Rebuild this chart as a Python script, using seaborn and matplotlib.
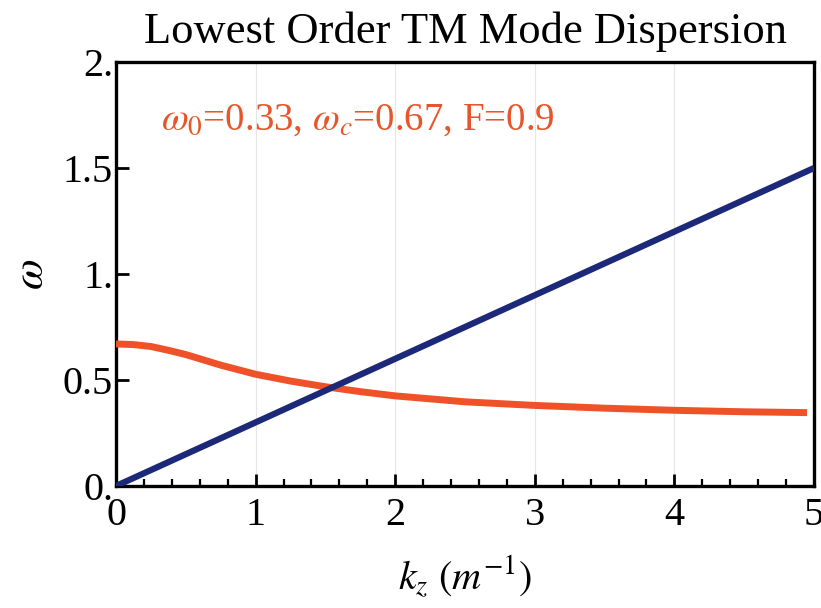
import numpy as np
import pandas as pd
import matplotlib
matplotlib.use("Agg")
import matplotlib.pyplot as plt
import seaborn as sns

# Data
kz_light = [0.0, 5.0]
omega_light = [0.0, 1.5]

kz_mode = [0.0, 0.125, 0.25, 0.375, 0.5, 0.75, 1.0, 1.25, 1.5, 1.75, 2.0, 2.5, 3.0,
           3.5, 4.0, 4.5, 4.95]
omega_mode = [0.670, 0.667, 0.658, 0.640, 0.620, 0.570, 0.527, 0.495, 0.468, 0.445,
              0.425, 0.397, 0.380, 0.367, 0.357, 0.350, 0.346]

x_ticks = [0, 1, 2, 3, 4, 5]
x_ticklabels = ["0", "1", "2", "3", "4", "5"]
y_ticks = [0.0, 0.5, 1.0, 1.5, 2.0]
y_ticklabels = ["0.", "0.5", "1.", "1.5", "2."]

sns.set_style("white")
plt.rcParams["font.family"] = ["Liberation Serif", "DejaVu Serif"]
plt.rcParams["mathtext.fontset"] = "stix"
plt.rcParams["text.color"] = "black"
plt.rcParams["axes.labelcolor"] = "black"
plt.rcParams["xtick.color"] = "black"
plt.rcParams["ytick.color"] = "black"

fig = plt.figure(figsize=(8.21, 6.08), dpi=100)
ax = fig.add_axes([0.1413, 0.2007, 0.8502, 0.6973])

df_light = pd.DataFrame({"kz": kz_light, "omega": omega_light})
df_mode = pd.DataFrame({"kz": kz_mode, "omega": omega_mode})

sns.lineplot(data=df_light, x="kz", y="omega", ax=ax, color="#1c2878", lw=4.5,
             solid_capstyle="butt", zorder=4)
sns.lineplot(data=df_mode, x="kz", y="omega", ax=ax, color="#ef5228", lw=5,
             solid_capstyle="butt", solid_joinstyle="round", zorder=3)

ax.set_xlim(0, 5)
ax.set_ylim(0, 2)
ax.set_xticks(x_ticks)
ax.set_xticklabels(x_ticklabels)
ax.set_yticks(y_ticks)
ax.set_yticklabels(y_ticklabels)
ax.set_xticks(np.arange(0, 5.01, 0.2), minor=True)

ax.tick_params(axis="x", which="both", bottom=True, top=False)
ax.tick_params(axis="y", which="both", left=True, right=False)
ax.tick_params(axis="both", which="major", direction="in", length=9, width=2,
               labelsize=29, colors="black", pad=6)
ax.tick_params(axis="x", which="minor", direction="in", length=5, width=1.6, colors="black")
ax.tick_params(axis="x", which="major", pad=8)
ax.tick_params(axis="y", which="major", pad=2)

ax.xaxis.grid(True, which="major", color="#e6e6e6", lw=0.8)
ax.yaxis.grid(False)

for s in ax.spines.values():
    s.set_linewidth(2.4)
    s.set_color("black")

ax.set_xlabel(r"$k_z\ (m^{-1})$", fontsize=29, labelpad=14)
ax.set_ylabel(r"$\omega$", fontsize=32, labelpad=8)
ax.set_title("Lowest Order TM Mode Dispersion", fontsize=32, pad=14)

ax.text(0.064, 0.82, r"$\omega_0$=0.33, $\omega_c$=0.67, F=0.9", transform=ax.transAxes,
        fontsize=28, color="#e8552a", va="bottom", ha="left")

fig.savefig("out.png", dpi=100)
